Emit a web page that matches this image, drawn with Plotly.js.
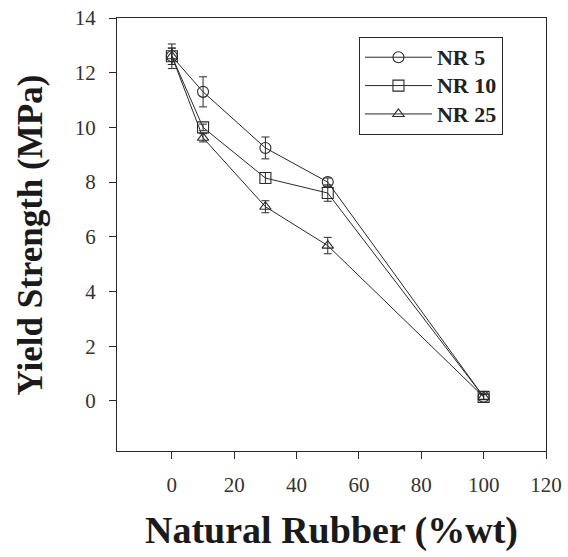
<!DOCTYPE html>
<html>
<head>
<meta charset="utf-8">
<script src="https://cdn.plot.ly/plotly-3.0.1.min.js"></script>
<style>html,body{margin:0;padding:0;background:#fff;}#chart{width:568px;height:557px;}</style>
</head>
<body>
<div id="chart"></div>
<script>
const rubber = [0, 10, 30, 50, 100];
const nr5 = [12.6, 11.3, 9.25, 8.0, 0.15];
const nr5Err = [0.45, 0.55, 0.4, 0.15, 0.1];
const nr10 = [12.6, 10.0, 8.15, 7.6, 0.15];
const nr10Err = [0.3, 0.12, 0.2, 0.3, 0.1];
const nr25 = [12.6, 9.62, 7.1, 5.68, 0.15];
const nr25Err = [0.3, 0.15, 0.22, 0.3, 0.1];
const names = ['NR 5', 'NR 10', 'NR 25'];
const symbols = ['circle-open', 'square-open', 'triangle-up-open'];
const ink = '#2a2a2a';

const series = [nr5, nr10, nr25];
const errs = [nr5Err, nr10Err, nr25Err];
const traces = series.map((ys, i) => ({
  x: rubber, y: ys, type: 'scatter', mode: 'lines+markers',
  name: '<span style="font-size:22px">' + names[i] + '</span>',
  line: {color: ink, width: 1},
  marker: {symbol: symbols[i], size: i === 2 ? 10 : 11, color: ink, line: {color: ink, width: 1.1}},
  error_y: {type: 'data', array: errs[i], visible: true, color: ink, thickness: 1, width: 4}
}));

const layout = {
  width: 568, height: 557,
  margin: {l: 117, r: 22, t: 18, b: 106},
  paper_bgcolor: '#fff', plot_bgcolor: '#fff',
  font: {family: 'Liberation Serif, serif', color: '#333'},
  showlegend: true,
  legend: {
    x: 0.564, y: 0.956, xanchor: 'left', yanchor: 'top',
    bordercolor: ink, borderwidth: 1, bgcolor: '#fff',
    font: {family: 'Liberation Serif, serif', size: 19.5, color: '#222', weight: 'bold'},
    itemwidth: 67, entrywidth: 87
  },
  xaxis: {
    range: [-17.6, 120], tickvals: [0, 20, 40, 60, 80, 100, 120],
    ticks: 'outside', ticklen: 7, tickcolor: ink, showgrid: false, zeroline: false,
    showline: true, linecolor: ink, linewidth: 1, mirror: true,
    tickfont: {size: 21, color: '#333'}, ticklabelstandoff: 8,
    title: {text: 'Natural Rubber (%wt)', font: {size: 38, color: '#1a1a1a', weight: 'bold'}, standoff: 20}
  },
  yaxis: {
    range: [-1.83, 14], tickvals: [0, 2, 4, 6, 8, 10, 12, 14],
    ticks: 'outside', ticklen: 7, tickcolor: ink, showgrid: false, zeroline: false,
    showline: true, linecolor: ink, linewidth: 1, mirror: true,
    tickfont: {size: 21, color: '#333'}, ticklabelstandoff: 9
  },
  annotations: [{
    text: 'Yield Strength (MPa)', xref: 'paper', yref: 'paper', x: -0.2005, y: 0.5,
    xanchor: 'center', yanchor: 'middle', textangle: -90, showarrow: false,
    font: {family: 'Liberation Serif, serif', size: 35, color: '#1a1a1a', weight: 'bold'}
  }]
};
Plotly.newPlot('chart', traces, layout, {displayModeBar: false});
</script>
</body>
</html>
